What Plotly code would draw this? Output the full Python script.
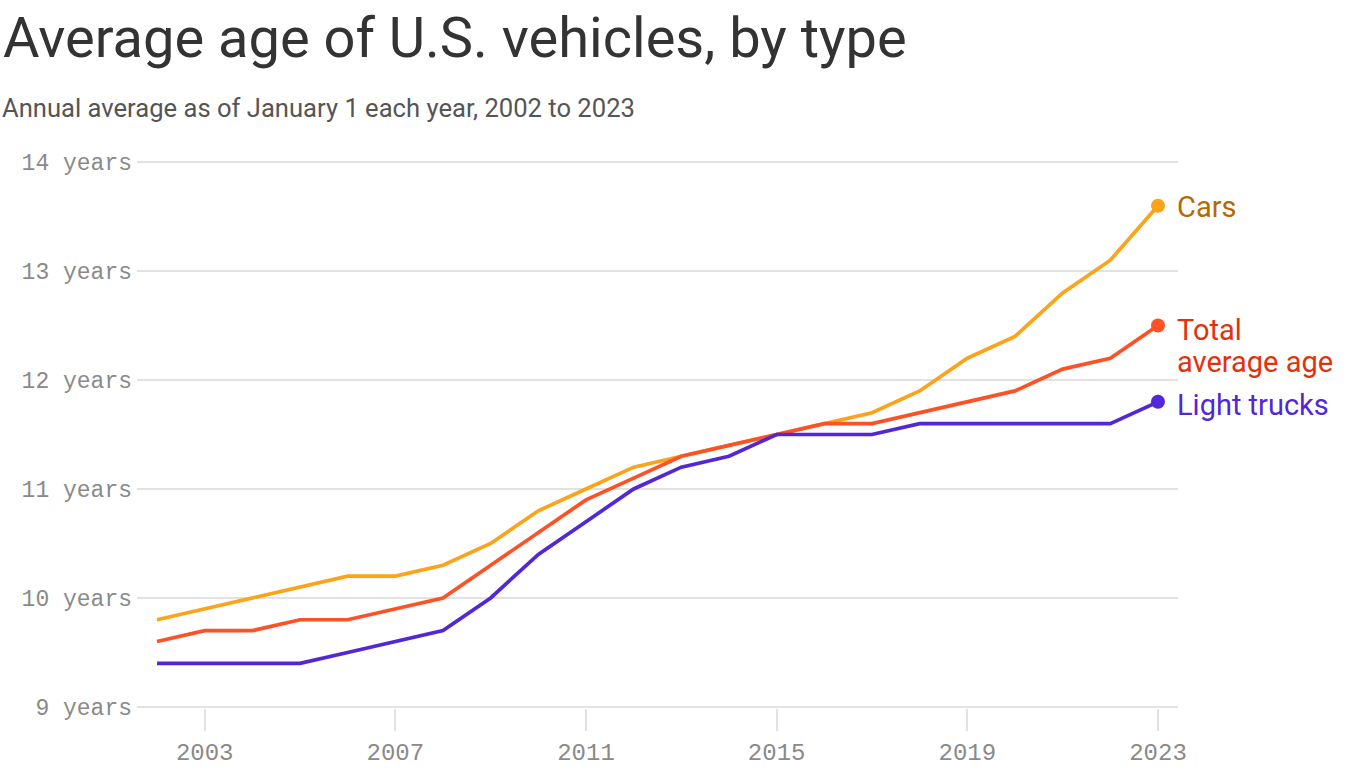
import plotly.graph_objects as go

years = list(range(2002, 2024))
cars = [9.8, 9.9, 10.0, 10.1, 10.2, 10.2, 10.3, 10.5, 10.8, 11.0, 11.2, 11.3,
        11.4, 11.5, 11.6, 11.7, 11.9, 12.2, 12.4, 12.8, 13.1, 13.6]
total = [9.6, 9.7, 9.7, 9.8, 9.8, 9.9, 10.0, 10.3, 10.6, 10.9, 11.1, 11.3,
         11.4, 11.5, 11.6, 11.6, 11.7, 11.8, 11.9, 12.1, 12.2, 12.5]
trucks = [9.4, 9.4, 9.4, 9.4, 9.5, 9.6, 9.7, 10.0, 10.4, 10.7, 11.0, 11.2,
          11.3, 11.5, 11.5, 11.5, 11.6, 11.6, 11.6, 11.6, 11.6, 11.8]
y_ticks = [9, 10, 11, 12, 13, 14]
y_tick_labels = [f"{v} years" for v in y_ticks]
x_ticks = [2003, 2007, 2011, 2015, 2019, 2023]

series = [
    ("Cars", cars, "#FBA31B", "#B46A00", ["Cars"]),
    ("Total average age", total, "#FF5126", "#E2320C", ["Total", "average age"]),
    ("Light trucks", trucks, "#5227D8", "#5227D8", ["Light trucks"]),
]

W, H = 1366, 768
L, R, T, B = 137, 188, 161, 60
PW = W - L - R
PH = H - T - B

def px_x(p):
    return (p - L) / PW

def px_y(p):
    return (H - B - p) / PH

SANS = "Roboto, Inter, sans-serif"
MONO = "Liberation Mono, DejaVu Sans Mono, monospace"

fig = go.Figure()
for name, vals, col, lcol, label in series:
    fig.add_trace(go.Scatter(
        x=years, y=vals, mode="lines", name=name,
        line=dict(color=col, width=3.7), hoverinfo="skip", showlegend=False))
    fig.add_trace(go.Scatter(
        x=[years[-1]], y=[vals[-1]], mode="markers", name=name,
        marker=dict(color=col, size=14), hoverinfo="skip", showlegend=False))

annotations = [
    dict(text="Average age of U.S. vehicles, by type", xref="paper", yref="paper",
         x=px_x(1), y=px_y(38), xanchor="left", yanchor="middle", showarrow=False,
         font=dict(family=SANS, size=56, color="#333333")),
    dict(text="Annual average as of January 1 each year, 2002 to 2023", xref="paper", yref="paper",
         x=px_x(0), y=px_y(108), xanchor="left", yanchor="middle", showarrow=False,
         font=dict(family=SANS, size=25.6, color="#555555")),
]
shifts = {"Cars": [-1], "Total average age": [-4, -36], "Light trucks": [-3]}
for name, vals, col, lcol, lines in series:
    for line_text, ys in zip(lines, shifts[name]):
        annotations.append(dict(
            text=line_text, x=years[-1], y=vals[-1], xref="x", yref="y",
            xanchor="left", yanchor="middle", align="left", showarrow=False,
            xshift=17, yshift=ys,
            font=dict(family=SANS, size=29, color=lcol)))

fig.update_layout(
    width=W, height=H,
    margin=dict(l=L, r=R, t=T, b=B, autoexpand=False),
    plot_bgcolor="white", paper_bgcolor="white",
    annotations=annotations,
    xaxis=dict(range=[2001.58, 2023.42], tickvals=x_ticks, ticktext=[str(v) for v in x_ticks],
               showgrid=False, zeroline=False, showline=False, automargin=False,
               ticks="outside", ticklen=22, tickwidth=1.5, tickcolor="#e2e2e2",
               tickfont=dict(family=MONO, size=24, color="#8a8a8a")),
    yaxis=dict(range=[8.99, 14.01], tickvals=y_ticks, ticktext=y_tick_labels,
               showgrid=True, gridcolor="#e2e2e2", gridwidth=1.5, zeroline=False,
               showline=False, ticks="", ticklabelstandoff=4, automargin=False,
               tickfont=dict(family=MONO, size=23, color="#8a8a8a")),
)

fig.write_html("out.html", config={"displayModeBar": False},
               post_script="document.body.style.margin='0';document.body.style.overflow='hidden';")
